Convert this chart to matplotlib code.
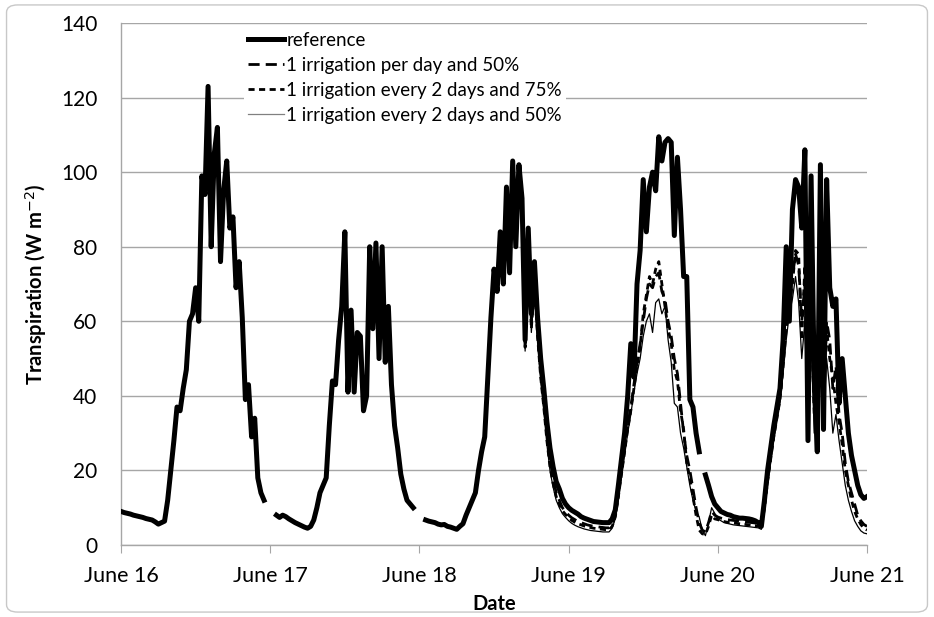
import numpy as np
import matplotlib
matplotlib.use("Agg")
import matplotlib.pyplot as plt
from matplotlib.patches import FancyBboxPatch

nan = np.nan

# half-hour steps from June 16 00:00 (hours)
hours = np.arange(0, 120.5, 0.5)

# reference transpiration (W m-2)
reference = [
    9.0, 8.7, 8.5, 8.3, 8.0, 7.8, 7.6, 7.4, 7.1, 6.9, 6.7, 6.2, 5.6, 6.0, 6.4, 12, 20, 28, 37, 36, 42, 47, 60, 62,
    69, 60, 99, 94, 123, 80, 105, 112, 76, 95, 103, 85, 88, 69, 76, 61, 39, 43, 29, 34, 18, 14, 12, nan,
    nan, nan, 8.0, 7.4, 8.0, 7.6, 7.0, 6.5, 6.0, 5.6, 5.2, 4.8, 4.5, 5.0, 6.7, 10, 14, 16, 18, 32, 44, 43, 55, 64,
    84, 41, 63, 41, 57, 56, 36, 40, 80, 58, 81, 50, 80, 49, 64, 43, 32, 26, 19, 15, 12, 11, 10, nan,
    nan, nan, 6.7, 6.4, 6.2, 6.0, 5.6, 5.4, 5.5, 5.0, 4.8, 4.5, 4.2, 5.0, 5.7, 8, 10, 12, 14, 20, 25, 29, 45, 61,
    74, 68, 84, 70, 96, 73, 103, 80, 102, 93, 55, 85, 62, 76, 61, 50, 42, 33, 26, 21, 17, 15, 12.5, 11,
    10, 9.3, 8.8, 8.3, 7.6, 7.2, 6.9, 6.6, 6.3, 6.2, 6.1, 6.0, 6.0, 6.0, 7, 9.4, 16, 23, 30, 40, 54, 45, 70, 79,
    98, 84, 96, 100, 95, 109.5, 103, 108, 109, 108, 83, 104, 90, 72, 72, 39, 37, 30, 25, nan, 18.8, 16, 13, 11,
    10, 9, 8.6, 8.2, 8.0, 7.6, 7.4, 7.2, 7.2, 7.1, 7.0, 6.8, 6.5, 6.0, 5.0, 12, 20, 26, 32, 37, 42, 55, 80, 60,
    90, 98, 96, 85, 106, 28, 99, 45, 25, 102, 31, 98, 69, 64, 66, 38, 50, 40, 30, 24, 20, 16, 13.5, 12.5,
    13,
]

# treatments follow the reference until June 18 afternoon, listed from hour 64
treat_start = 64
per_day_50 = [
    102, 90, 54, 80, 60, 72, 58, 47, 39, 30, 23, 18, 14, 12, 10, 9, 8, 7.3, 6.8, 6.3, 6.0, 5.7, 5.4, 5.2,
    5.0, 4.9, 4.8, 4.7, 4.6, 4.6, 5.5, 8, 14, 20, 26, 32, 37, 43, 49, 54, 60, 66, 70, 69, 72, 73, 68, 66,
    60, 56, 50, 46, 38, 30, 24, 20, 15, 10, 6, 4, 3.5, 6, 9, 8, 7.5, 7.2, 7.0, 6.8, 6.7, 6.6, 6.5, 6.4,
    6.3, 6.2, 6.1, 6.0, 5.9, 5.8, 4.8, 11, 18, 24, 30, 35, 40, 50, 60, 66, 72, 78, 75, 60, 70, 35, 72, 45,
    40, 65, 38, 60, 55, 42, 48, 35, 30, 22, 17, 14, 11, 8, 6.5, 5.5, 5,
]
every2_75 = [
    102, 89, 53, 79, 58, 70, 56, 45, 37, 28, 21, 16.5, 13, 11, 9.2, 8.2, 7.3, 6.6, 6.1, 5.7, 5.4, 5.1, 4.9, 4.7,
    4.5, 4.4, 4.3, 4.2, 4.1, 4.1, 5.0, 7.5, 13, 19, 25, 31, 36, 42, 48, 53, 62, 67, 72, 70, 74, 76, 70, 64,
    58, 54, 47, 44, 36, 31, 22, 18, 13, 8, 4, 3, 2.8, 5, 8, 7, 6.8, 6.5, 6.3, 6.1, 6.0, 5.9, 5.8, 5.7,
    5.6, 5.5, 5.4, 5.3, 5.2, 5.1, 4.5, 10, 17, 23, 29, 34, 39, 48, 58, 64, 70, 79, 78, 55, 75, 40, 65, 35,
    50, 60, 45, 58, 50, 45, 38, 33, 27, 20, 16, 12, 9, 7, 5.5, 4.5, 4,
]
every2_50 = [
    102, 88, 52, 78, 57, 69, 55, 44, 36, 27, 20, 15.5, 12, 10, 8.4, 7.4, 6.5, 5.8, 5.3, 4.9, 4.6, 4.3, 4.1, 3.9,
    3.8, 3.7, 3.6, 3.5, 3.5, 3.5, 4.5, 7, 12, 18, 24, 30, 35, 41, 46, 50, 56, 60, 62, 57, 65, 66, 62, 64,
    55, 49, 38, 37, 30, 26, 21, 16, 12, 9, 7.5, 4, 2.5, 6, 10, 8.5, 7.0, 6.5, 6.0, 5.8, 5.6, 5.4, 5.3, 5.2,
    5.1, 5.0, 4.9, 4.8, 4.7, 4.6, 4.2, 9, 16, 22, 28, 33, 38, 46, 55, 62, 66, 72, 65, 50, 60, 28, 58, 30,
    35, 55, 33, 50, 42, 30, 35, 28, 22, 16, 12, 9, 6.5, 5, 3.8, 3.2, 3,
]

day_ticks = [0, 24, 48, 72, 96, 120]
day_labels = ["June 16", "June 17", "June 18", "June 19", "June 20", "June 21"]

plt.rcParams['font.family'] = ['Lato', 'DejaVu Sans']

fig = plt.figure(figsize=(9.34, 6.17), dpi=100)
ax = fig.add_axes([0.1296, 0.1167, 0.7987, 0.846])

th = hours[hours >= treat_start]
ax.plot(hours, reference, color='black', lw=3.6, label='reference', zorder=5)
ax.plot(th, per_day_50, color='black', lw=2.0, dashes=(4, 2.2), label='1 irrigation per day and 50%', zorder=4)
ax.plot(th, every2_75, color='black', lw=2.0, dashes=(2.2, 1.6), label='1 irrigation every 2 days and 75%', zorder=4)
ax.plot(th, every2_50, color='black', lw=0.9, label='1 irrigation every 2 days and 50%', zorder=4)

ax.set_xlim(0, 120)
ax.set_ylim(0, 140)
ax.set_xticks(day_ticks)
ax.set_xticklabels(day_labels)
ax.set_yticks(range(0, 141, 20))
ax.yaxis.grid(True, color='#a6a6a6', lw=1)
ax.set_axisbelow(True)
for s in ['top', 'right']:
    ax.spines[s].set_visible(False)
for s in ['left', 'bottom']:
    ax.spines[s].set_color('#a6a6a6')
    ax.spines[s].set_linewidth(1)
ax.tick_params(axis='x', length=6, color='#a6a6a6', labelsize=15.5, pad=9)
ax.tick_params(axis='y', length=0, labelsize=15, pad=17)

ax.set_xlabel('Date', fontsize=14.5, fontweight='bold', labelpad=6)
ax.set_ylabel('Transpiration (W m$^{-2}$)', fontsize=14.5, fontweight='bold', labelpad=9)

leg = ax.legend(loc='upper left', bbox_to_anchor=(0.165, 0.99), fontsize=13.5,
                handlelength=1.9, handletextpad=0.15, labelspacing=0.42,
                borderaxespad=0, borderpad=0.2, frameon=True, fancybox=False)
leg.get_frame().set_edgecolor('none')
leg.get_frame().set_facecolor('white')
leg.get_frame().set_alpha(1)
leg.legend_handles[3].set_color('#808080')

# outer border
fig.patches.append(FancyBboxPatch((0.007, 0.008), 0.986, 0.984,
                                  boxstyle="round,pad=0,rounding_size=0.012",
                                  transform=fig.transFigure, edgecolor='#c8c8c8',
                                  facecolor='none', lw=1))

fig.savefig('out.png', dpi=100)
